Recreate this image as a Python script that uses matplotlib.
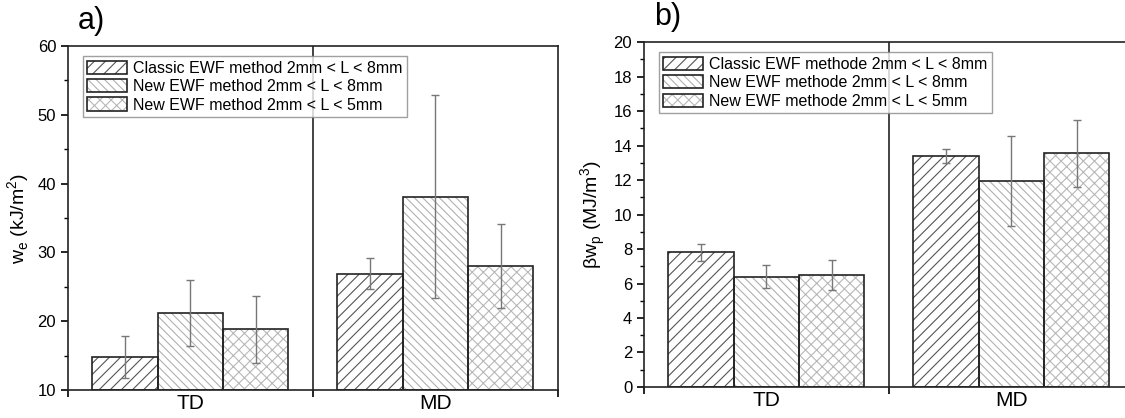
import matplotlib
matplotlib.use("Agg")
import matplotlib.pyplot as plt
from matplotlib.patches import Patch
from matplotlib.legend_handler import HandlerTuple
from matplotlib.ticker import MultipleLocator, FixedLocator, NullFormatter
import numpy as np

plt.rcParams['font.family'] = ['Liberation Sans', 'DejaVu Sans']
plt.rcParams['hatch.linewidth'] = 0.8

categories = ["TD", "MD"]

# panel a) w_e (kJ/m2)
we_classic = [14.8, 26.9]
we_classic_err = [3.0, 2.25]
we_new8 = [21.2, 38.1]
we_new8_err = [4.75, 14.8]
we_new5 = [18.8, 28.0]
we_new5_err = [4.9, 6.15]
labels_a = ["Classic EWF method 2mm < L < 8mm",
            "New EWF method 2mm < L < 8mm",
            "New EWF method 2mm < L < 5mm"]

# panel b) beta w_p (MJ/m3)
bwp_classic = [7.8, 13.4]
bwp_classic_err = [0.5, 0.4]
bwp_new8 = [6.4, 11.95]
bwp_new8_err = [0.65, 2.6]
bwp_new5 = [6.5, 13.55]
bwp_new5_err = [0.85, 1.95]
labels_b = ["Classic EWF methode 2mm < L < 8mm",
            "New EWF methode 2mm < L < 8mm",
            "New EWF methode 2mm < L < 5mm"]

hatches = ["///", "\\\\\\\\", "xxx"]
hatch_cols = ["#555555", "#b0b0b0", "#b8b8b8"]


def draw_panel(ax, series, errs, labels, ylim, major, minor, ylabel, tag):
    x = np.arange(len(categories)) + 0.5
    w = 0.8 / 3
    handles = []
    for i, (vals, err) in enumerate(zip(series, errs)):
        pos = x + (i - 1) * w
        ax.bar(pos, np.array(vals) - ylim[0], w, bottom=ylim[0], color="white",
               edgecolor=hatch_cols[i], hatch=hatches[i], linewidth=0, zorder=2)
        ax.bar(pos, np.array(vals) - ylim[0], w, bottom=ylim[0], fill=False,
               edgecolor="#222222", linewidth=1.2, zorder=3)
        ax.errorbar(pos, vals, yerr=err, fmt="none", ecolor="#777777",
                    elinewidth=1, capsize=3, capthick=1, zorder=4)
        h1 = Patch(facecolor="white", edgecolor=hatch_cols[i], hatch=hatches[i], linewidth=0)
        h2 = Patch(fill=False, edgecolor="#222222", linewidth=1.2)
        handles.append((h1, h2))

    ax.axvline(1, color="#222222", lw=1.2, zorder=1)
    ax.set_xlim(0, 2)
    ax.set_ylim(*ylim)
    ax.xaxis.set_major_locator(FixedLocator([0, 1, 2]))
    ax.xaxis.set_major_formatter(NullFormatter())
    ax.xaxis.set_minor_locator(FixedLocator(list(x)))
    ax.set_xticklabels(categories, minor=True)
    ax.tick_params(axis="x", which="minor", length=0, labelsize=15, pad=3)
    ax.tick_params(axis="x", which="major", length=5, width=1.2, direction="out")
    ax.yaxis.set_major_locator(MultipleLocator(major))
    ax.yaxis.set_minor_locator(MultipleLocator(minor))
    ax.tick_params(axis="y", which="major", length=5, width=1.2, labelsize=12, direction="out")
    ax.tick_params(axis="y", which="minor", length=3, width=1, direction="out")
    for s in ax.spines.values():
        s.set_linewidth(1.2)
        s.set_color("#222222")
    ax.set_ylabel(ylabel, fontsize=14)

    leg = ax.legend(handles, labels, handler_map={tuple: HandlerTuple(ndivide=1)},
                    loc="upper left", bbox_to_anchor=(0.02, 0.985), fontsize=11.5,
                    frameon=True, fancybox=False, edgecolor="#888888",
                    handlelength=2.5, handleheight=0.9, handletextpad=0.35,
                    labelspacing=0.2, borderpad=0.3, borderaxespad=0.3)
    leg.get_frame().set_linewidth(1.0)
    leg.set_zorder(5)
    ax.text(0.02, 1.03, tag, transform=ax.transAxes, fontsize=22,
            ha="left", va="bottom")


fig = plt.figure(figsize=(11.25, 4.18), dpi=100)
ax1 = fig.add_axes([0.0604, 0.067, 0.4356, 0.823])
ax2 = fig.add_axes([0.5724, 0.0742, 0.4356, 0.825])

draw_panel(ax1, [we_classic, we_new8, we_new5],
           [we_classic_err, we_new8_err, we_new5_err], labels_a,
           (10, 60), 10, 5, r"w$_\mathregular{e}$ (kJ/m$^\mathregular{2}$)", "a)")
draw_panel(ax2, [bwp_classic, bwp_new8, bwp_new5],
           [bwp_classic_err, bwp_new8_err, bwp_new5_err], labels_b,
           (0, 20), 2, 1, r"βw$_\mathregular{p}$ (MJ/m$^\mathregular{3}$)", "b)")

fig.savefig("out.png", dpi=100)
